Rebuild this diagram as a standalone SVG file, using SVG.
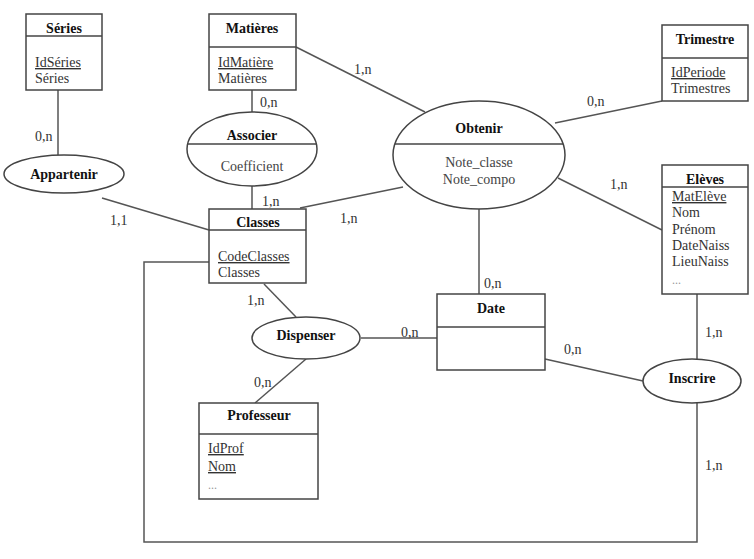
<svg xmlns="http://www.w3.org/2000/svg" width="754" height="559" viewBox="0 0 754 559" font-family="'Liberation Serif', 'DejaVu Serif', serif" font-size="14">
<style>
.box{fill:#fff;stroke:#444;stroke-width:1.5}
.div{stroke:#444;stroke-width:1.5}
.ell{fill:#fff;stroke:#444;stroke-width:1.5}
.ln{fill:none;stroke:#555;stroke-width:1.5}
.t{font-weight:bold;fill:#111;text-anchor:middle}
.a{fill:#333}
.c{fill:#444;text-anchor:middle}
.ca{fill:#333}
.u{text-decoration:underline}
.dots{fill:#999;font-size:12px}
</style>
<rect width="754" height="559" fill="#fff"/>
<g id="connectors">
<line class="ln" x1="58" y1="90" x2="58" y2="155"/>
<line class="ln" x1="102" y1="198" x2="209" y2="230"/>
<line class="ln" x1="252" y1="90" x2="252" y2="112"/>
<line class="ln" x1="252" y1="186" x2="252" y2="209"/>
<line class="ln" x1="296" y1="47" x2="425" y2="112"/>
<line class="ln" x1="300" y1="208" x2="403" y2="187"/>
<line class="ln" x1="662" y1="101" x2="555" y2="123"/>
<line class="ln" x1="558" y1="178" x2="662" y2="230"/>
<line class="ln" x1="479" y1="209" x2="479" y2="294"/>
<line class="ln" x1="264" y1="284" x2="296" y2="317"/>
<line class="ln" x1="306" y1="359" x2="255" y2="403"/>
<line class="ln" x1="361" y1="338" x2="437" y2="338"/>
<line class="ln" x1="545" y1="359" x2="643" y2="381"/>
<line class="ln" x1="697" y1="294" x2="697" y2="359"/>
<polyline class="ln" points="697,403 697,542 144,542 144,262 210,262"/>
<text class="ca" x="35" y="141">0,n</text>
<text class="ca" x="110" y="225">1,1</text>
<text class="ca" x="260" y="107">0,n</text>
<text class="ca" x="262" y="206">1,n</text>
<text class="ca" x="354" y="74">1,n</text>
<text class="ca" x="340" y="223">1,n</text>
<text class="ca" x="587" y="106">0,n</text>
<text class="ca" x="610" y="189">1,n</text>
<text class="ca" x="484" y="288">0,n</text>
<text class="ca" x="247" y="305">1,n</text>
<text class="ca" x="401" y="337">0,n</text>
<text class="ca" x="254" y="387">0,n</text>
<text class="ca" x="564" y="354">0,n</text>
<text class="ca" x="705" y="337">1,n</text>
<text class="ca" x="705" y="470">1,n</text>
</g>
<g id="series">
<rect class="box" x="26" y="14" width="76" height="76"/>
<line class="div" x1="26" y1="36" x2="102" y2="36"/>
<text class="t" x="64" y="33">Séries</text>
<text class="a u" x="35" y="67">IdSéries</text>
<text class="a" x="35" y="83">Séries</text>
</g>
<g id="matieres">
<rect class="box" x="209" y="14" width="87" height="76"/>
<line class="div" x1="209" y1="47" x2="296" y2="47"/>
<text class="t" x="252" y="33">Matières</text>
<text class="a u" x="218" y="67">IdMatière</text>
<text class="a" x="218" y="83">Matières</text>
</g>
<g id="trimestre">
<rect class="box" x="662" y="25" width="86" height="76"/>
<line class="div" x1="662" y1="58" x2="748" y2="58"/>
<text class="t" x="705" y="44">Trimestre</text>
<text class="a u" x="671" y="77">IdPeriode</text>
<text class="a" x="671" y="93">Trimestres</text>
</g>
<g id="eleves">
<rect class="box" x="662" y="165" width="86" height="129"/>
<line class="div" x1="662" y1="187" x2="748" y2="187"/>
<text class="t" x="705" y="184">Elèves</text>
<text class="a u" x="672" y="201">MatElève</text>
<text class="a" x="672" y="217">Nom</text>
<text class="a" x="672" y="234">Prénom</text>
<text class="a" x="672" y="250">DateNaiss</text>
<text class="a" x="672" y="266">LieuNaiss</text>
<text class="dots" x="672" y="284">...</text>
</g>
<g id="classes">
<rect class="box" x="209" y="209" width="97" height="74"/>
<line class="div" x1="209" y1="230" x2="306" y2="230"/>
<text class="t" x="258" y="227">Classes</text>
<text class="a u" x="218" y="261">CodeClasses</text>
<text class="a" x="218" y="277">Classes</text>
</g>
<g id="date">
<rect class="box" x="437" y="294" width="108" height="76"/>
<line class="div" x1="437" y1="327" x2="545" y2="327"/>
<text class="t" x="491" y="313">Date</text>
</g>
<g id="professeur">
<rect class="box" x="199" y="403" width="119" height="96"/>
<line class="div" x1="199" y1="434" x2="318" y2="434"/>
<text class="t" x="259" y="420">Professeur</text>
<text class="a u" x="208" y="453">IdProf</text>
<text class="a u" x="208" y="471">Nom</text>
<text class="dots" x="208" y="489">...</text>
</g>
<g id="appartenir">
<ellipse class="ell" cx="64" cy="174" rx="60" ry="19"/>
<text class="t" x="64" y="179">Appartenir</text>
</g>
<g id="associer">
<ellipse class="ell" cx="252" cy="149" rx="65" ry="37"/>
<line class="div" x1="187.6" y1="144" x2="316.4" y2="144"/>
<text class="t" x="252" y="140">Associer</text>
<text class="c" x="252" y="171">Coefficient</text>
</g>
<g id="obtenir">
<ellipse class="ell" cx="479" cy="155" rx="86" ry="54"/>
<line class="div" x1="394.8" y1="144" x2="563.2" y2="144"/>
<text class="t" x="479" y="133">Obtenir</text>
<text class="c" x="479" y="167">Note_classe</text>
<text class="c" x="479" y="184">Note_compo</text>
</g>
<g id="dispenser">
<ellipse class="ell" cx="306" cy="338" rx="54" ry="21"/>
<text class="t" x="306" y="340">Dispenser</text>
</g>
<g id="inscrire">
<ellipse class="ell" cx="692" cy="381" rx="49" ry="22"/>
<text class="t" x="692" y="383">Inscrire</text>
</g>
</svg>
